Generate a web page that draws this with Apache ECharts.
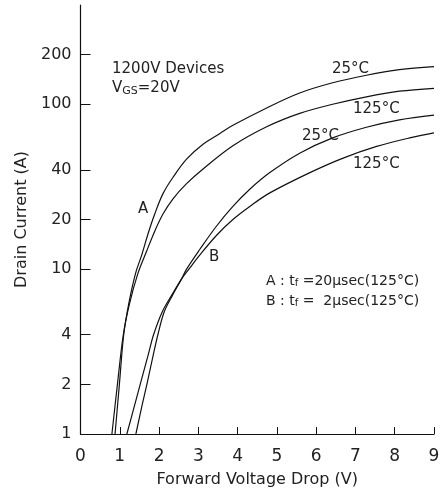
<!DOCTYPE html>
<html>
<head>
<meta charset="utf-8">
<script src="https://cdn.jsdelivr.net/npm/echarts@6/dist/echarts.min.js"></script>
<style>
html, body { margin: 0; padding: 0; background: #fff; }
#chart { width: 443px; height: 493px; }
</style>
</head>
<body>
<div id="chart"></div>
<script>
// forward voltage drop (V) vs drain current (A)
var curveA25 = [[0.88,1],[0.99,2],[1.1,4],[1.23,6.2],[1.4,9.4],[1.56,12.2],[1.72,16.4],[1.89,21.6],[2.1,28.7],[2.36,36.2],[2.7,46.5],[3.12,57.2],[3.55,66.5],[3.88,74.5],[4.74,95],[5.58,117],[6.42,135],[7.28,150],[8.12,162],[9,169]];
var curveA125 = [[0.8,1],[0.94,2],[1.09,4],[1.25,6.2],[1.46,9.4],[1.68,12.8],[1.89,17],[2.1,21.6],[2.36,26.8],[2.7,33],[3.12,40.5],[3.88,56],[4.74,73],[5.58,88],[6.42,100],[7.28,111],[8.12,120],[9,125]];
var curveB25 = [[1.41,1],[1.57,1.5],[1.69,2],[1.85,3],[1.97,4],[2.13,5.5],[2.35,7],[2.57,8.7],[2.7,10],[3.04,13.2],[3.46,18.2],[3.88,24],[4.31,30.5],[4.82,38.5],[5.58,50.5],[6.42,62.5],[7.28,72.5],[8.12,80.5],[9,86]];
var curveB125 = [[1.18,1],[1.38,1.5],[1.52,2],[1.72,3],[1.86,4],[2.08,5.5],[2.33,7],[2.57,8.7],[2.76,10],[3.04,12.2],[3.46,16],[3.88,20],[4.31,24],[4.82,29],[5.84,38.5],[6.67,47],[7.54,55.5],[8.38,62.5],[9,67]];

var xTicks = [0,1,2,3,4,5,6,7,8,9];
var yTicks = [1,2,4,10,20,40,100,200];

var font = 'DejaVu Sans';
var chart = echarts.init(document.getElementById('chart'));

function curve(data) {
    return {
        type: 'line',
        data: data,
        showSymbol: false,
        smooth: 0.35,
        lineStyle: { color: '#111', width: 1.2 },
        silent: true
    };
}

var option = {
    backgroundColor: '#fff',
    animation: false,
    grid: { left: 80.5, right: 9, top: 5, bottom: 52 },
    xAxis: {
        type: 'value',
        min: 0, max: 9, interval: 1,
        name: 'Forward Voltage Drop (V)',
        nameLocation: 'middle',
        nameGap: 38,
        nameTextStyle: { fontFamily: font, fontSize: 16, color: '#222' },
        axisLine: { lineStyle: { color: '#111', width: 1.2 } },
        axisTick: { inside: true, length: 7, lineStyle: { color: '#111' }, customValues: xTicks },
        axisLabel: { fontFamily: font, fontSize: 17, color: '#222', margin: 14, customValues: xTicks },
        splitLine: { show: false }
    },
    yAxis: {
        type: 'log',
        logBase: 10,
        min: 1, max: 400,
        name: 'Drain Current (A)',
        nameLocation: 'middle',
        nameGap: 47,
        nameTextStyle: { fontFamily: font, fontSize: 16, color: '#222' },
        axisLine: { show: true, lineStyle: { color: '#111', width: 1.2 } },
        axisTick: { inside: true, length: 10, lineStyle: { color: '#111' }, customValues: yTicks },
        axisLabel: { fontFamily: font, fontSize: 16, color: '#222', margin: 9, customValues: yTicks },
        splitLine: { show: false },
        minorTick: { show: false }
    },
    graphic: [
        { type: 'text', left: 112, top: 62, style: { text: '1200V Devices', font: '15px ' + font, fill: '#222' } },
        { type: 'text', left: 112, top: 81, style: {
            text: '{n|V}{s|GS}{n|=20V}',
            rich: { n: { font: '15px ' + font, fill: '#222' }, s: { font: '11px ' + font, fill: '#222', padding: [5, 0, 0, 0] } }
        } },
        { type: 'text', left: 332, top: 62, style: { text: '25°C', font: '15px ' + font, fill: '#222' } },
        { type: 'text', left: 353, top: 102, style: { text: '125°C', font: '15px ' + font, fill: '#222' } },
        { type: 'text', left: 302, top: 129, style: { text: '25°C', font: '15px ' + font, fill: '#222' } },
        { type: 'text', left: 353, top: 157, style: { text: '125°C', font: '15px ' + font, fill: '#222' } },
        { type: 'text', left: 138, top: 202, style: { text: 'A', font: '15px ' + font, fill: '#222' } },
        { type: 'text', left: 209, top: 250, style: { text: 'B', font: '15px ' + font, fill: '#222' } },
        { type: 'text', left: 266, top: 274, style: {
            text: '{n|A : t}{s|f}{n| =20μsec(125°C)}',
            rich: { n: { font: '14px ' + font, fill: '#222' }, s: { font: '10px ' + font, fill: '#222', padding: [5, 0, 0, 0] } }
        } },
        { type: 'text', left: 266, top: 294, style: {
            text: '{n|B : t}{s|f}{n| =  2μsec(125°C)}',
            rich: { n: { font: '14px ' + font, fill: '#222' }, s: { font: '10px ' + font, fill: '#222', padding: [5, 0, 0, 0] } }
        } }
    ],
    series: [curve(curveA25), curve(curveA125), curve(curveB25), curve(curveB125)]
};

chart.setOption(option);
</script>
</body>
</html>
